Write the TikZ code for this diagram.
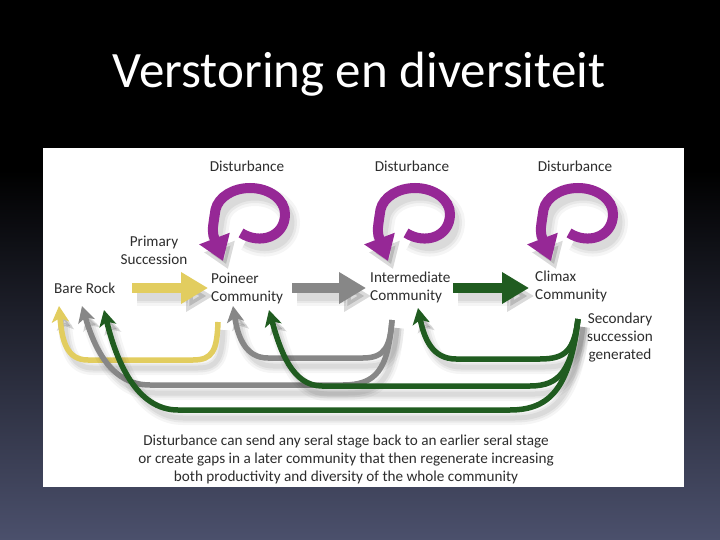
\documentclass[tikz,border=0pt]{standalone}
\usepackage{fontspec}
\setmainfont{Carlito}
\usetikzlibrary{arrows.meta}
\definecolor{purp}{RGB}{150,40,150}
\definecolor{yel}{RGB}{226,205,95}
\definecolor{gry}{RGB}{135,135,135}
\definecolor{grn}{RGB}{32,92,32}
\definecolor{txt}{RGB}{45,45,45}
\definecolor{bgbot}{RGB}{75,80,108}
\tikzset{
  lbl/.style={inner sep=0pt, text=txt, font=\fontsize{15.2}{18}\selectfont},
  shadthick/.style={
    preaction={draw=black, opacity=0.04, line width=20pt, transform canvas={shift={(5,8)}}},
    preaction={draw=black, opacity=0.05, line width=14pt, transform canvas={shift={(5,8)}}},
    preaction={draw=black, opacity=0.06, line width=9pt, transform canvas={shift={(5,8)}}}},
  shadthin/.style={
    preaction={draw=black, opacity=0.04, line width=14pt, transform canvas={shift={(5,8)}}},
    preaction={draw=black, opacity=0.05, line width=9pt, transform canvas={shift={(5,8)}}},
    preaction={draw=black, opacity=0.06, line width=5pt, transform canvas={shift={(5,8)}}}},
  bigarrow/.style={shadthick, line width=10pt, -{Triangle[length=27pt,width=30pt]}},
  loopar/.style={shadthick, purp, line width=10pt, -{Triangle[length=24pt,width=31pt]}},
  retline/.style={shadthin, line width=5.5pt, -{Stealth[length=16pt,width=17pt,inset=4pt]}}
}
\begin{document}
\begin{tikzpicture}[x=1pt,y=-1pt]
\useasboundingbox (0,0) rectangle (720,540);
\fill[black] (0,0) rectangle (720,540);
\shade[top color=black, bottom color=bgbot] (0,170) rectangle (720,540);
\fill[white] (43,148) rectangle (684,487);

% title
\node[anchor=base, text=white, inner sep=0pt, font=\fontsize{51}{60}\selectfont] (title) at (359,88) {Verstoring en diversiteit};

% disturbance loops
\foreach \cx/\nm in {250/d1, 415/d2, 578/d3}{
  \node[lbl] (\nm) at (\cx-3,166) {Disturbance};
  \draw[loopar] (\cx-9,233) .. controls (\cx+10,245) and (\cx+35,237) .. (\cx+35,214)
     arc[start angle=0, end angle=-170, x radius=35, y radius=26]
     .. controls (\cx-38,232) .. (\cx-27,261);
}

% labels
\node[lbl, anchor=west] (bare) at (54,288) {Bare Rock};
\node[lbl, align=center] (prim) at (154,250) {Primary\\Succession};
\node[lbl, align=left, anchor=west] (pion) at (211,288) {Poineer\\Community};
\node[lbl, align=left, anchor=west] (inter) at (370,287) {Intermediate\\Community};
\node[lbl, align=left, anchor=west] (clim) at (535,286) {Climax\\Community};
\node[lbl, align=center] (sec) at (620,338) {Secondary\\succession\\generated};
\node[lbl, align=center] (note) at (346,459) {Disturbance can send any seral stage back to an earlier seral stage\\or create gaps in a later community that then regenerate increasing\\both productivity and diversity of the whole community};

% forward arrows
\coordinate (ya) at (132,288); \coordinate (yb) at (208,288);
\coordinate (ga) at (292,288); \coordinate (gb) at (366,288);
\coordinate (na) at (453,288); \coordinate (nb) at (529,288);
\draw[bigarrow, yel] (ya) -- (yb);
\draw[bigarrow, gry] (ga) -- (gb);
\draw[bigarrow, grn] (na) -- (nb);

% return arrows
\coordinate (ys) at (218,322); \coordinate (ye) at (59,306);
\coordinate (gs) at (392,320); \coordinate (g1e) at (82,306); \coordinate (g2e) at (233,306);
\coordinate (ns) at (578,319); \coordinate (n1e) at (418,308); \coordinate (n2e) at (269,310); \coordinate (n3e) at (104,310);

\draw[retline, yel] (ys) .. controls (217,350) and (213,360) .. (193,360) -- (88,360)
   .. controls (66,360) and (62,340) .. (ye);
\draw[retline, gry] (gs) .. controls (390,345) and (386,358) .. (363,358) -- (268,358)
   .. controls (246,358) and (238,338) .. (g2e);
\draw[retline, gry] (gs) .. controls (388,370) and (376,385) .. (343,385) -- (150,385)
   .. controls (112,385) and (95,350) .. (g1e);
\draw[retline, grn] (ns) .. controls (574,350) and (566,359) .. (540,359) -- (456,359)
   .. controls (432,359) and (424,338) .. (n1e);
\draw[retline, grn] (ns) .. controls (572,370) and (560,386) .. (530,386) -- (322,386)
   .. controls (292,386) and (280,350) .. (n2e);
\draw[retline, grn] (ns) .. controls (570,385) and (552,410) .. (510,410) -- (178,410)
   .. controls (136,410) and (116,360) .. (n3e);
\end{tikzpicture}
\end{document}
